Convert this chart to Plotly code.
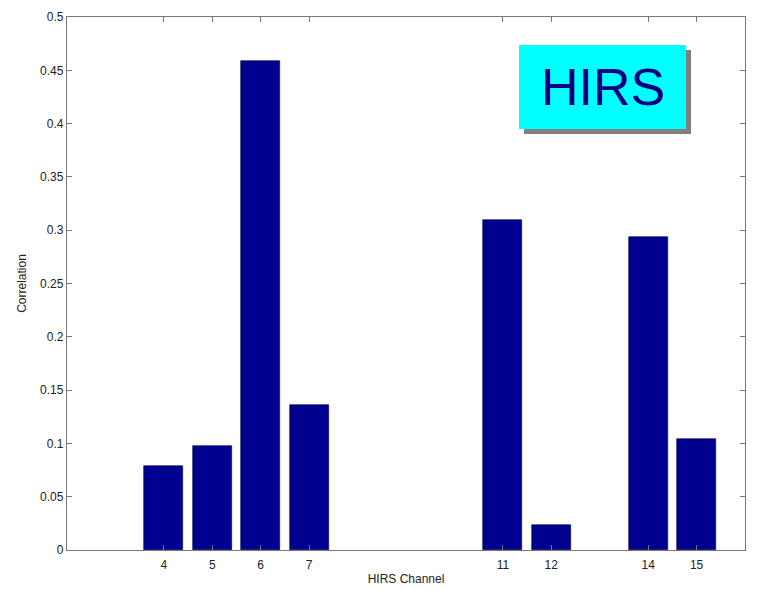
import plotly.graph_objects as go

channels = [4, 5, 6, 7, 11, 12, 14, 15]
correlation = [0.079, 0.098, 0.459, 0.136, 0.310, 0.0235, 0.294, 0.104]
x_tick_labels = [str(c) for c in channels]
y_tick_vals = [0, 0.05, 0.1, 0.15, 0.2, 0.25, 0.3, 0.35, 0.4, 0.45, 0.5]
y_tick_labels = ["0", "0.05", "0.1", "0.15", "0.2", "0.25", "0.3", "0.35", "0.4", "0.45", "0.5"]

fig = go.Figure()
fig.add_trace(go.Bar(
    x=channels, y=correlation, width=0.8,
    marker=dict(color="#000090", line=dict(color="#000040", width=0.6)),
    showlegend=False,
))

axis_common = dict(
    showline=True, linecolor="#777777", linewidth=1.3, mirror="ticks",
    ticks="inside", ticklen=5, tickcolor="#777777", tickwidth=1,
    showgrid=False, zeroline=False, automargin=False,
    tickfont=dict(family="Arial", size=12, color="#222222"),
)

fig.update_layout(
    width=757, height=590,
    margin=dict(l=67, r=12, t=17, b=40),
    paper_bgcolor="white", plot_bgcolor="white",
    bargap=0,
    xaxis=dict(range=[2, 16], tickvals=channels, ticktext=x_tick_labels,
               ticklabelstandoff=3,
               title=dict(text="HIRS Channel", font=dict(family="Arial", size=12, color="#222222"), standoff=4),
               **axis_common),
    yaxis=dict(range=[0, 0.5], tickvals=y_tick_vals, ticktext=y_tick_labels,
               title=dict(text="Correlation", font=dict(family="Arial", size=12, color="#222222"), standoff=10),
               **axis_common),
)

# HIRS label box with drop shadow (pixel-aligned in paper coords)
def px_x(p):
    return (p - 67) / 678.0

def px_y(p):
    return (550 - p) / 533.0

fig.add_shape(type="rect", xref="paper", yref="paper",
              x0=px_x(524), x1=px_x(691), y0=px_y(134), y1=px_y(50),
              fillcolor="#808080", line=dict(width=0), layer="above")
fig.add_shape(type="rect", xref="paper", yref="paper",
              x0=px_x(519), x1=px_x(686), y0=px_y(129), y1=px_y(45),
              fillcolor="#00FFFF", line=dict(width=0), layer="above")
fig.add_annotation(xref="paper", yref="paper", x=px_x(602.5), y=px_y(87),
                   text="HIRS", showarrow=False,
                   font=dict(family="Arial", size=52, color="#000080"),
                   xanchor="center", yanchor="middle")

fig.write_html("out.html")
